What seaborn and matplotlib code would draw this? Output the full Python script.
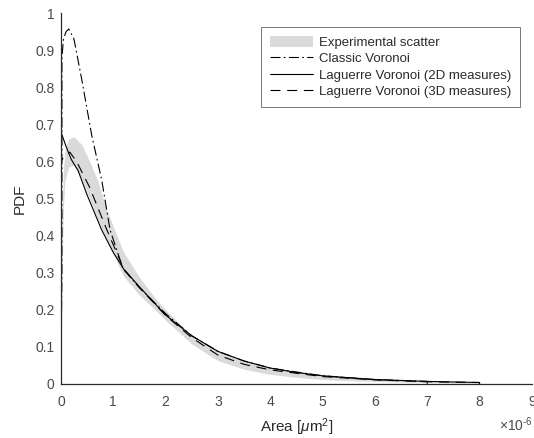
import matplotlib
matplotlib.use("Agg")
import matplotlib.pyplot as plt
import seaborn as sns
import numpy as np
import pandas as pd

# Experimental scatter band (x in 1e-6 um^2 units)
band_x = [0.0, 0.02, 0.05, 0.08, 0.15, 0.25, 0.4, 0.55, 0.7, 0.85, 1.0, 1.2, 1.5, 1.8, 2.0, 2.5, 3.0, 3.5, 4.0, 4.5, 5.0, 5.5, 6.0, 6.5, 7.0, 7.5, 8.0]
band_lo = [0.0, 0.3, 0.48, 0.55, 0.585, 0.59, 0.55, 0.5, 0.445, 0.395, 0.35, 0.29, 0.24, 0.2, 0.172, 0.108, 0.063, 0.04, 0.026, 0.018, 0.012, 0.009, 0.007, 0.005, 0.004, 0.003, 0.002]
band_hi = [0.0, 0.45, 0.58, 0.63, 0.66, 0.667, 0.645, 0.6, 0.55, 0.48, 0.425, 0.355, 0.288, 0.232, 0.2, 0.13, 0.088, 0.062, 0.045, 0.034, 0.026, 0.02, 0.015, 0.011, 0.008, 0.006, 0.004]

# Classic Voronoi
classic_x = [0.0, 0.02, 0.02, 0.05, 0.1, 0.15, 0.25, 0.4, 0.59, 0.78, 0.94, 1.19, 1.5, 2.0, 2.5, 3.0, 3.5, 4.0, 5.0, 6.0, 7.0, 7.0]
classic_y = [0.0, 0.3, 0.88, 0.93, 0.95, 0.957, 0.93, 0.82, 0.67, 0.55, 0.415, 0.31, 0.26, 0.19, 0.13, 0.088, 0.062, 0.043, 0.022, 0.012, 0.007, 0.0]

# Laguerre Voronoi (2D measures)
lag2d_x = [0.0, 0.0, 0.1, 0.2, 0.33, 0.5, 0.78, 1.0, 1.2, 1.5, 2.0, 2.5, 3.0, 3.5, 4.0, 4.5, 5.0, 6.0, 7.0, 8.0, 8.0]
lag2d_y = [0.0, 0.68, 0.64, 0.605, 0.575, 0.51, 0.415, 0.355, 0.31, 0.262, 0.186, 0.13, 0.088, 0.062, 0.043, 0.031, 0.022, 0.012, 0.007, 0.004, 0.0]

# Laguerre Voronoi (3D measures)
lag3d_x = [0.0, 0.0, 0.05, 0.17, 0.3, 0.55, 0.88, 1.2, 1.5, 2.0, 2.5, 3.0, 3.5, 4.0, 5.0, 6.0, 7.0, 8.0, 8.0]
lag3d_y = [0.0, 0.6, 0.61, 0.625, 0.6, 0.53, 0.415, 0.31, 0.26, 0.185, 0.125, 0.078, 0.053, 0.038, 0.02, 0.011, 0.006, 0.004, 0.0]

x_ticks = [0, 1, 2, 3, 4, 5, 6, 7, 8, 9]
y_ticks = [0, 0.1, 0.2, 0.3, 0.4, 0.5, 0.6, 0.7, 0.8, 0.9, 1]
y_tick_labels = ["0", "0.1", "0.2", "0.3", "0.4", "0.5", "0.6", "0.7", "0.8", "0.9", "1"]

sns.set_style("white")
plt.rcParams['font.family'] = ['Liberation Sans', 'DejaVu Sans']
plt.rcParams['mathtext.fontset'] = 'custom'
plt.rcParams['mathtext.rm'] = 'Liberation Sans'
plt.rcParams['mathtext.it'] = 'Liberation Sans:italic'

fig = plt.figure(figsize=(5.34, 4.38), dpi=100)
ax = fig.add_axes([0.114, 0.1233, 0.882, 0.847])

axis_col = '#2a2a2a'
ax.fill_between(band_x, band_lo, band_hi, color='#dadada', linewidth=0, label='Experimental scatter')

df_c = pd.DataFrame({'x': classic_x, 'y': classic_y})
df_2 = pd.DataFrame({'x': lag2d_x, 'y': lag2d_y})
df_3 = pd.DataFrame({'x': lag3d_x, 'y': lag3d_y})

sns.lineplot(data=df_c, x='x', y='y', ax=ax, estimator=None, sort=False, color='black',
             lw=0.8, linestyle=(0, (9, 3, 1.5, 3)), label='Classic Voronoi')
sns.lineplot(data=df_2, x='x', y='y', ax=ax, estimator=None, sort=False, color='black',
             lw=0.8, linestyle='-', label='Laguerre Voronoi (2D measures)')
sns.lineplot(data=df_3, x='x', y='y', ax=ax, estimator=None, sort=False, color='black',
             lw=0.8, linestyle=(0, (9, 6)), label='Laguerre Voronoi (3D measures)')

ax.set_xlim(0, 9)
ax.set_ylim(0, 1)
ax.set_xticks(x_ticks)
ax.set_xticklabels([str(t) for t in x_ticks])
ax.set_yticks(y_ticks)
ax.set_yticklabels(y_tick_labels)
ax.tick_params(axis='both', length=0, labelsize=10, colors='#4a4a4a')
ax.tick_params(axis='x', pad=8)
ax.tick_params(axis='y', pad=4.5)
for s in ['top', 'right']:
    ax.spines[s].set_visible(False)
for s in ['left', 'bottom']:
    ax.spines[s].set_color(axis_col)
    ax.spines[s].set_linewidth(0.9)

ax.set_xlabel(r'Area [$\mu$m$^2$]', fontsize=11, color='#2a2a2a', labelpad=5)
ax.set_ylabel('PDF', fontsize=11, color='#2a2a2a', labelpad=6)
ax.text(1.003, -0.085, r'$\times$10$^{\text{-6}}$', transform=ax.transAxes, ha='right', va='top',
        fontsize=10, color='#4a4a4a')

leg = ax.legend(loc='upper right', bbox_to_anchor=(0.9745, 0.962), fontsize=9.5, frameon=True,
                fancybox=False, handlelength=3.3, handleheight=1.0, handletextpad=0.45,
                borderpad=0.65, labelspacing=0.22, borderaxespad=0)
leg.get_frame().set_edgecolor('#555555')
leg.get_frame().set_linewidth(0.7)
for t in leg.get_texts():
    t.set_color('#2a2a2a')

fig.savefig('out.png', dpi=100)
